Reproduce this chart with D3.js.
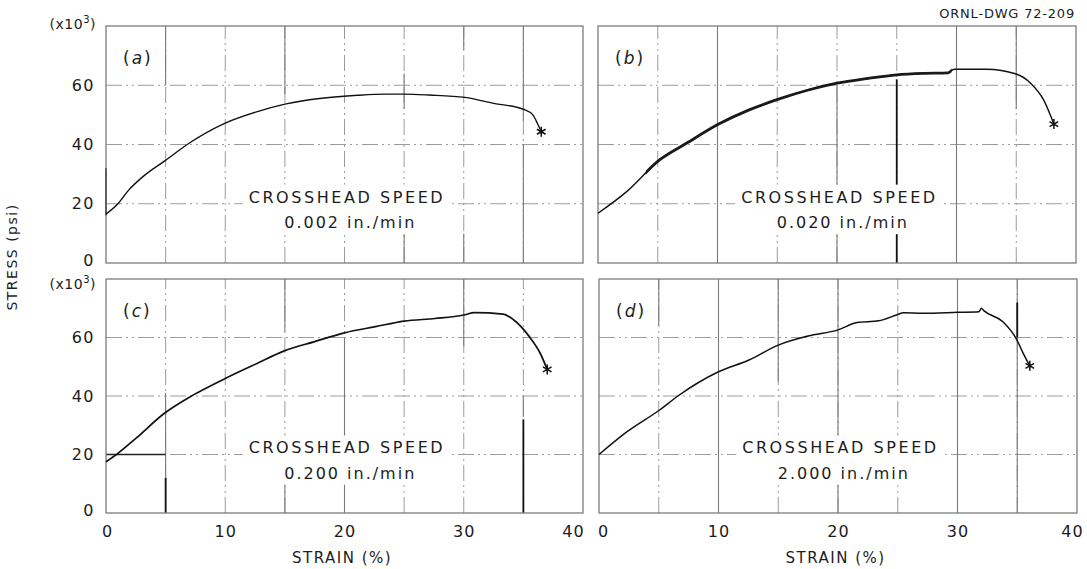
<!DOCTYPE html>
<html>
<head>
<meta charset="utf-8">
<script src="https://cdn.jsdelivr.net/npm/d3@7"></script>
<style>
  html, body { margin: 0; padding: 0; background: #fff; }
  svg { display: block; }
  text { font-family: "DejaVu Sans", "Liberation Sans", sans-serif; fill: #1c1c1c; }
</style>
</head>
<body>
<svg id="chart" width="1087" height="569"></svg>
<script>
// ---- data -------------------------------------------------------------
const panelKeys = ["a", "b", "c", "d"];
const speedLabels = ["0.002 in./min", "0.020 in./min", "0.200 in./min", "2.000 in./min"];
const strainTicks = [0, 10, 20, 30, 40];
const stressTicks = [0, 20, 40, 60];
const strainGrid = [5, 10, 15, 20, 25, 30, 35];
const stressGrid = [20, 40, 60];
const strainDomain = [0, 40];
const stressDomain = [0, 80];   // stress in units of 10^3 psi

// stress-strain traces (strain %, stress x10^3 psi); last point = fracture
const aStrain = [0, 1.0, 1.9, 3.2, 4.9, 7.0, 10.0, 12.7, 15.1, 18.1, 21.1, 23.5, 25.0, 27.1, 30.1, 32.5, 35.0, 35.8, 36.2, 36.5];
const aStress = [16.5, 20.0, 24.6, 29.5, 34.4, 40.5, 47.2, 51.1, 53.7, 55.6, 56.6, 57.0, 57.0, 56.7, 55.9, 53.9, 51.9, 50.0, 46.9, 44.3];

const bStrain = [0, 2.4, 5.15, 7.4, 10.1, 12.6, 15.1, 17.6, 20.0, 22.6, 25.0, 27.2, 29.3, 29.8, 32.5, 35.0, 36.2, 37.3, 38.15];
const bStress = [16.8, 24.1, 34.8, 40.4, 46.9, 51.6, 55.3, 58.4, 60.7, 62.3, 63.5, 64.0, 64.2, 65.4, 65.4, 63.8, 60.7, 55.0, 46.9];

const cStrain = [0, 1.0, 2.5, 4.9, 7.3, 10.0, 12.7, 15.0, 17.5, 20.0, 22.6, 25.0, 27.6, 30.0, 30.9, 33.3, 34.2, 35.5, 36.4, 37.0];
const cStress = [17.5, 20.4, 25.5, 34.1, 40.3, 46.0, 51.2, 55.5, 58.6, 61.6, 63.7, 65.6, 66.5, 67.7, 68.5, 68.0, 66.0, 60.3, 54.7, 49.1];

const dStrain = [0, 2.35, 5.1, 6.6, 10.0, 12.55, 15.0, 17.5, 20.0, 21.6, 23.4, 24.9, 25.5, 27.1, 30.0, 31.8, 32.0, 32.2, 33.8, 34.9, 35.5, 36.05];
const dStress = [20.0, 27.8, 35.3, 40.0, 48.3, 52.3, 57.4, 60.5, 62.6, 65.1, 65.7, 67.7, 68.5, 68.3, 68.6, 68.8, 70.0, 69.2, 65.4, 59.7, 54.6, 50.3];

// heavier rulings of the chart paper: [strain, stress from, stress to]
const rulesA = [[5, 60, 80], [15, 57, 80], [25, 0, 10], [25, 52, 64], [30, 0, 10], [30, 72, 80], [35, 0, 40], [35, 48, 80]];
const rulesB = [[10, 0, 80], [20, 0, 60], [30, 0, 80], [35, 52, 80]];
const rulesC = [[5, 0, 41], [15, 62, 80], [15, 0, 18], [20, 0, 60], [30, 57, 80], [35, 33, 40]];
const rulesD = [[5, 64, 80], [10, 0, 80], [15, 45, 80], [20, 0, 80], [30, 0, 80], [35, 0, 80]];
// inked (black) stretches of the rulings
const inkA = [[0, 16, 32]];
const inkB = [[25, 0, 62]];
const inkC = [[5, 0, 12], [35, 0, 32]];
const inkD = [[35, 60, 72]];
const inkRowsC = [[20, 0, 5]];   // [stress, strain from, strain to]

// ---- layout -----------------------------------------------------------
const frames = {
  a: { left: 106, right: 583, top: 26, bottom: 263, multDy: 3 },
  b: { left: 598, right: 1076, top: 26, bottom: 263 },
  c: { left: 106, right: 583, top: 279, bottom: 513, multDy: 10 },
  d: { left: 599, right: 1077, top: 279, bottom: 513 }
};
const traces = {
  a: { strain: aStrain, stress: aStress, width: 1.4 },
  b: { strain: bStrain, stress: bStress, width: 1.4 },
  c: { strain: cStrain, stress: cStress, width: 1.7 },
  d: { strain: dStrain, stress: dStress, width: 1.5 }
};
const rules = { a: rulesA, b: rulesB, c: rulesC, d: rulesD };
const inks = { a: inkA, b: inkB, c: inkC, d: inkD };

const svg = d3.select("#chart");
const gridColor = "#9c9c9c";

panelKeys.forEach((key, i) => {
  const f = frames[key];
  const x = d3.scaleLinear(strainDomain, [f.left, f.right]);
  const y = d3.scaleLinear(stressDomain, [f.bottom, f.top]);
  const g = svg.append("g").attr("class", "panel-" + key);

  // dash-dot grid
  g.append("g").selectAll("line").data(strainGrid).join("line")
    .attr("x1", d => x(d)).attr("x2", d => x(d))
    .attr("y1", y(0)).attr("y2", y(80))
    .attr("stroke", gridColor).attr("stroke-width", 1)
    .attr("stroke-dasharray", "16 4 2 4 2 4");
  g.append("g").selectAll("line").data(stressGrid).join("line")
    .attr("x1", x(0)).attr("x2", x(40))
    .attr("y1", d => y(d)).attr("y2", d => y(d))
    .attr("stroke", gridColor).attr("stroke-width", 1)
    .attr("stroke-dasharray", "16 4 2 4 2 4");

  // solid rulings
  g.append("g").selectAll("line").data(rules[key]).join("line")
    .attr("x1", d => x(d[0])).attr("x2", d => x(d[0]))
    .attr("y1", d => y(d[1])).attr("y2", d => y(d[2]))
    .attr("stroke", "#7a7a7a").attr("stroke-width", 1.1);
  g.append("g").selectAll("line").data(inks[key]).join("line")
    .attr("x1", d => x(d[0])).attr("x2", d => x(d[0]))
    .attr("y1", d => y(d[1])).attr("y2", d => y(d[2]))
    .attr("stroke", "#111").attr("stroke-width", 1.8);
  if (key === "c") {
    g.append("g").selectAll("line").data(inkRowsC).join("line")
      .attr("x1", d => x(d[1])).attr("x2", d => x(d[2]))
      .attr("y1", d => y(d[0])).attr("y2", d => y(d[0]))
      .attr("stroke", "#222").attr("stroke-width", 1.4);
  }

  // frame
  g.append("rect")
    .attr("x", f.left).attr("y", f.top)
    .attr("width", f.right - f.left).attr("height", f.bottom - f.top)
    .attr("fill", "none").attr("stroke", "#7c7c7c").attr("stroke-width", 1.3);

  // crosshead speed note on a white patch
  const note = g.append("g");
  const n1 = note.append("text")
    .attr("x", x(20.1)).attr("y", y(22.4) + 6)
    .attr("text-anchor", "middle").attr("font-size", 16)
    .attr("textLength", 194).attr("lengthAdjust", "spacing")
    .text("CROSSHEAD SPEED");
  const n2 = note.append("text")
    .attr("x", x(20.4)).attr("y", y(13.8) + 6)
    .attr("text-anchor", "middle").attr("font-size", 16)
    .attr("textLength", 130).attr("lengthAdjust", "spacing")
    .text(speedLabels[i]);
  const b1 = n1.node().getBBox(), b2 = n2.node().getBBox();
  const bx0 = Math.min(b1.x, b2.x) - 6, bx1 = Math.max(b1.x + b1.width, b2.x + b2.width) + 6;
  note.insert("rect", "text")
    .attr("x", bx0).attr("y", b1.y - 3)
    .attr("width", bx1 - bx0).attr("height", b2.y + b2.height - b1.y + 5)
    .attr("fill", "#fff");

  // panel tag
  const tag = g.append("text")
    .attr("x", f.left + 17).attr("y", f.top + 38)
    .attr("font-size", 17);
  tag.append("tspan").text("(");
  tag.append("tspan").attr("font-style", "italic").attr("dx", 2).text(key);
  tag.append("tspan").attr("dx", 2).text(")");

  // stress-strain trace
  const t = traces[key];
  const pts = t.strain.map((s, j) => [s, t.stress[j]]);
  const line = d3.line().x(d => x(d[0])).y(d => y(d[1])).curve(d3.curveMonotoneX);
  g.append("path").attr("d", line(pts))
    .attr("fill", "none").attr("stroke", "#111")
    .attr("stroke-width", t.width).attr("stroke-linejoin", "round");
  if (key === "b") {
    // serrated flow region drawn as a heavier band
    svg.append("clipPath").attr("id", "serr-b")
      .append("rect").attr("x", x(4)).attr("y", f.top)
      .attr("width", x(29.6) - x(4)).attr("height", f.bottom - f.top);
    g.append("path").attr("d", line(pts))
      .attr("clip-path", "url(#serr-b)")
      .attr("fill", "none").attr("stroke", "#1a1a1a")
      .attr("stroke-width", 2.8).attr("stroke-linejoin", "round");
  }
  // fracture mark
  const last = pts[pts.length - 1];
  g.append("path")
    .attr("d", d3.symbol().type(d3.symbolAsterisk).size(70)())
    .attr("transform", `translate(${x(last[0])},${y(last[1])})`)
    .attr("fill", "none").attr("stroke", "#111").attr("stroke-width", 1.5);

  // stress axis labels on the left column
  if (key === "a" || key === "c") {
    const ax = g.append("g")
      .attr("transform", `translate(${f.left},0)`)
      .call(d3.axisLeft(y).tickValues(stressTicks).tickSize(0).tickPadding(11));
    ax.select(".domain").remove();
    ax.attr("font-family", null).attr("font-size", null);
    ax.selectAll("text").attr("font-size", 16).attr("letter-spacing", 1.5).attr("fill", "#1c1c1c");
    ax.selectAll(".tick").filter(d => d === 0).select("text").attr("y", -3);
    const mult = g.append("text")
      .attr("x", f.left - 10).attr("y", y(80) + f.multDy)
      .attr("text-anchor", "end").attr("font-size", 14).attr("letter-spacing", 0.5);
    mult.append("tspan").text("(x10");
    mult.append("tspan").attr("font-size", 10).attr("dy", -6).text("3");
    mult.append("tspan").attr("dy", 6).text(")");
  }
  // strain axis labels on the bottom row
  if (key === "c" || key === "d") {
    const ax = g.append("g")
      .attr("transform", `translate(0,${f.bottom})`)
      .call(d3.axisBottom(x).tickValues(strainTicks).tickSize(0).tickPadding(13));
    ax.select(".domain").remove();
    ax.attr("font-family", null).attr("font-size", null);
    ax.selectAll("text").attr("font-size", 16).attr("letter-spacing", 1).attr("fill", "#1c1c1c");
    ax.selectAll(".tick").filter(d => d === 40).select("text").attr("dx", key === "c" ? -10 : -5);
    ax.selectAll(".tick").filter(d => d === 0).select("text").attr("dx", key === "d" ? 4 : 1);
    g.append("text")
      .attr("x", x(19.8)).attr("y", 563)
      .attr("text-anchor", "middle").attr("font-size", 15).attr("letter-spacing", 1.5)
      .text("STRAIN (%)");
  }
});

// shared stress title
svg.append("text")
  .attr("transform", "translate(17,257) rotate(-90)")
  .attr("text-anchor", "middle").attr("font-size", 14).attr("letter-spacing", 1.5)
  .text("STRESS (psi)");

// drawing number
svg.append("text")
  .attr("x", 1075).attr("y", 18)
  .attr("text-anchor", "end").attr("font-size", 13).attr("letter-spacing", 0.8)
  .text("ORNL-DWG 72-209");
</script>
</body>
</html>
